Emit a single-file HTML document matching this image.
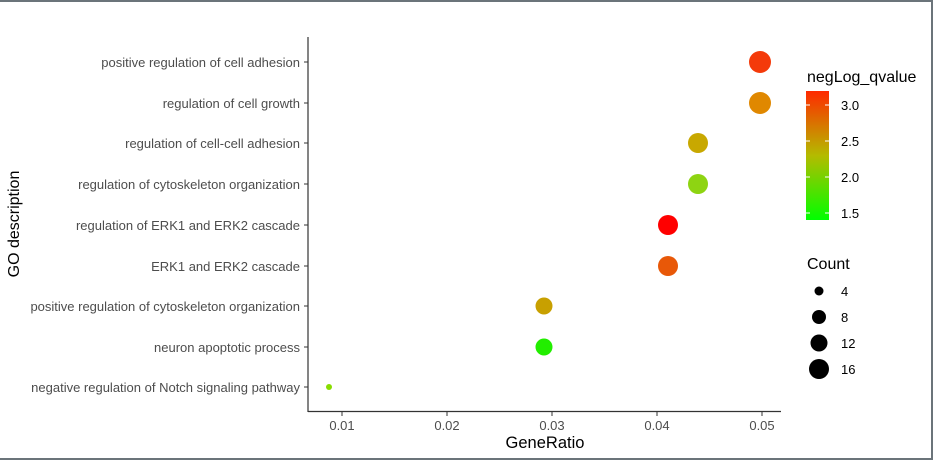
<!DOCTYPE html><html><head><style>body{margin:0;background:#fff}svg{display:block}text{font-family:"Liberation Sans",sans-serif}</style></head><body>
<svg width="934" height="461" viewBox="0 0 934 461">
<defs><linearGradient id="g" x1="0" y1="1" x2="0" y2="0"><stop offset="0" stop-color="#00ff00"/><stop offset="0.5" stop-color="#b4bb00"/><stop offset="1" stop-color="#ff2a00"/></linearGradient></defs>
<rect width="934" height="461" fill="#fff"/>
<path d="M0 1H932V459H0" fill="none" stroke="#6b747a" stroke-width="2"/>
<g stroke="#333" stroke-width="1.2"><line x1="308" y1="37" x2="308" y2="412"/><line x1="308" y1="411.5" x2="781" y2="411.5"/></g>
<g stroke="#333" stroke-width="1">
<line x1="304" y1="62" x2="308" y2="62"/><line x1="304" y1="103" x2="308" y2="103"/><line x1="304" y1="143" x2="308" y2="143"/><line x1="304" y1="184" x2="308" y2="184"/><line x1="304" y1="225" x2="308" y2="225"/><line x1="304" y1="266" x2="308" y2="266"/><line x1="304" y1="306" x2="308" y2="306"/><line x1="304" y1="347" x2="308" y2="347"/><line x1="304" y1="387" x2="308" y2="387"/>
<line x1="342" y1="412" x2="342" y2="416"/><line x1="447" y1="412" x2="447" y2="416"/><line x1="552" y1="412" x2="552" y2="416"/><line x1="657" y1="412" x2="657" y2="416"/><line x1="762" y1="412" x2="762" y2="416"/></g>
<g font-size="13" fill="#4d4d4d" text-anchor="end">
<text x="300" y="67">positive regulation of cell adhesion</text><text x="300" y="108">regulation of cell growth</text><text x="300" y="148">regulation of cell-cell adhesion</text><text x="300" y="189">regulation of cytoskeleton organization</text><text x="300" y="230">regulation of ERK1 and ERK2 cascade</text><text x="300" y="271">ERK1 and ERK2 cascade</text><text x="300" y="311">positive regulation of cytoskeleton organization</text><text x="300" y="352">neuron apoptotic process</text><text x="300" y="392">negative regulation of Notch signaling pathway</text></g>
<g font-size="13" fill="#4d4d4d" text-anchor="middle"><text x="342" y="430">0.01</text><text x="447" y="430">0.02</text><text x="552" y="430">0.03</text><text x="657" y="430">0.04</text><text x="762" y="430">0.05</text></g>
<text x="545" y="448" font-size="16.5" text-anchor="middle">GeneRatio</text>
<text transform="translate(19 224) rotate(-90)" font-size="16" text-anchor="middle">GO description</text>
<circle cx="760" cy="62" r="11" fill="#f43a0a"/><circle cx="760" cy="103" r="11" fill="#e08800"/><circle cx="698" cy="143" r="10" fill="#c8a800"/><circle cx="698" cy="184" r="10" fill="#8ed412"/><circle cx="668" cy="225" r="10" fill="#ff0000"/><circle cx="668" cy="266" r="10" fill="#e85808"/><circle cx="544" cy="306" r="8.5" fill="#c8a000"/><circle cx="544" cy="347" r="8.5" fill="#22ee00"/><circle cx="329" cy="387" r="3" fill="#88dd00"/>
<text x="807" y="82" font-size="16">negLog_qvalue</text>
<rect x="806" y="91" width="23" height="129" fill="url(#g)"/>
<g stroke="#fff" stroke-width="1"><line x1="806" y1="105" x2="810" y2="105"/><line x1="825" y1="105" x2="829" y2="105"/><line x1="806" y1="141" x2="810" y2="141"/><line x1="825" y1="141" x2="829" y2="141"/><line x1="806" y1="177" x2="810" y2="177"/><line x1="825" y1="177" x2="829" y2="177"/><line x1="806" y1="213" x2="810" y2="213"/><line x1="825" y1="213" x2="829" y2="213"/></g>
<g font-size="13"><text x="841" y="110">3.0</text><text x="841" y="146">2.5</text><text x="841" y="182">2.0</text><text x="841" y="218">1.5</text>
<text x="841" y="296">4</text><text x="841" y="322">8</text><text x="841" y="348">12</text><text x="841" y="374">16</text></g>
<text x="807" y="269" font-size="16">Count</text>
<circle cx="819" cy="291" r="4.5"/><circle cx="819" cy="317" r="7"/><circle cx="819" cy="343" r="8.5"/><circle cx="819" cy="369" r="10"/>
</svg></body></html>
